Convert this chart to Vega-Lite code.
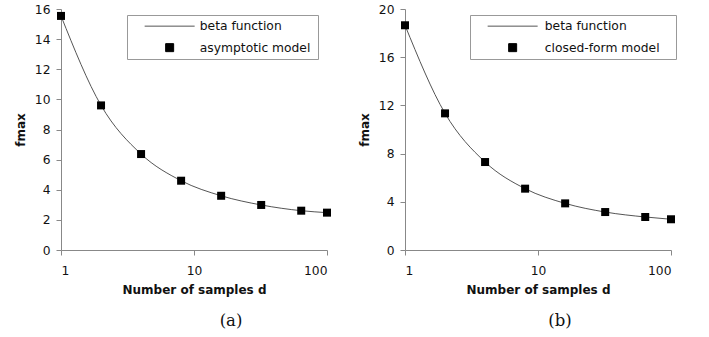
{
  "$schema": "https://vega.github.io/schema/vega-lite/v6.json",
  "background": "white",
  "padding": {"left": 14, "top": 3, "right": 5, "bottom": 5},
  "config": {
    "font": "DejaVu Sans",
    "view": {"stroke": null},
    "axis": {
      "grid": false,
      "domainColor": "#888",
      "tickColor": "#888",
      "tickSize": 5,
      "labelFont": "DejaVu Sans",
      "labelFontSize": 12.3,
      "labelColor": "#111",
      "titleFont": "DejaVu Sans",
      "titleFontSize": 12,
      "titleFontWeight": "bold",
      "titleColor": "#111"
    },
    "legend": {
      "orient": "none",
      "strokeColor": "#999",
      "fillColor": "white",
      "padding": 5,
      "labelFont": "DejaVu Sans",
      "labelFontSize": 12.3,
      "labelColor": "#111",
      "symbolSize": 64,
      "symbolOffset": 31.5,
      "labelOffset": 24,
      "rowPadding": 8.5,
      "titleOrient": "right",
      "titleFontSize": 12.3
    },
    "title": {
      "font": "DejaVu Serif",
      "fontSize": 16.5,
      "fontWeight": "normal",
      "color": "#111",
      "orient": "bottom",
      "frame": "group",
      "anchor": "middle",
      "offset": 18
    }
  },
  "spacing": 27,
  "resolve": {"scale": {"color": "independent", "y": "independent"}, "legend": {"color": "independent"}},
  "hconcat": [
    {
      "width": 266,
      "height": 241,
      "title": {"text": "(a)", "dx": 37},
      "data": {
        "values": [
          {"d": 1, "beta": 15.54, "model": 15.54},
          {"d": 2, "beta": 9.6, "model": 9.6},
          {"d": 4, "beta": 6.37, "model": 6.37},
          {"d": 8, "beta": 4.6, "model": 4.6},
          {"d": 16, "beta": 3.6, "model": 3.6},
          {"d": 32, "beta": 2.99, "model": 2.99},
          {"d": 64, "beta": 2.61, "model": 2.61},
          {"d": 100, "beta": 2.48, "model": 2.48}
        ]
      },
      "encoding": {
        "x": {
          "field": "d",
          "type": "quantitative",
          "scale": {"type": "log", "domain": [1, 100]},
          "axis": {"values": [1, 10, 100], "format": "d", "title": "Number of samples d", "labelPadding": 9, "titlePadding": 8}
        }
      },
      "layer": [
        {
          "mark": {"type": "line", "interpolate": "monotone", "strokeWidth": 1},
          "encoding": {
            "y": {
              "field": "beta",
              "type": "quantitative",
              "scale": {"domain": [0, 16]},
              "axis": {"values": [0, 2, 4, 6, 8, 10, 12, 14, 16], "labelOverlap": false, "title": "fmax", "labelPadding": 6, "titlePadding": 7}
            },
            "color": {
              "datum": "beta function",
              "type": "nominal",
              "scale": {"domain": ["beta function", "asymptotic model"], "range": ["#555555", "#000000"]},
              "legend": {
                "title": " ",
                "titlePadding": 3,
                "legendX": 66,
                "legendY": 6,
                "encode": {
                  "symbols": {
                    "update": {
                      "shape": {"signal": "datum.value === 'beta function' ? 'stroke' : 'square'"},
                      "size": {"signal": "datum.value === 'beta function' ? 2500 : 64"},
                      "fill": {"signal": "datum.value === 'beta function' ? 'transparent' : '#000000'"},
                      "stroke": {"signal": "datum.value === 'beta function' ? '#555555' : '#000000'"},
                      "strokeWidth": {"value": 1},
                      "opacity": {"value": 1}
                    }
                  }
                }
              }
            }
          }
        },
        {
          "mark": {"type": "square", "size": 64, "opacity": 1},
          "encoding": {
            "y": {
              "field": "model",
              "type": "quantitative",
              "scale": {"domain": [0, 16]},
              "axis": {"values": [0, 2, 4, 6, 8, 10, 12, 14, 16], "labelOverlap": false, "title": "fmax", "labelPadding": 6, "titlePadding": 7}
            },
            "color": {"datum": "asymptotic model", "type": "nominal"}
          }
        }
      ]
    },
    {
      "width": 266,
      "height": 241,
      "title": {"text": "(b)", "dx": 22},
      "data": {
        "values": [
          {"d": 1, "beta": 18.65, "model": 18.65},
          {"d": 2, "beta": 11.34, "model": 11.34},
          {"d": 4, "beta": 7.3, "model": 7.3},
          {"d": 8, "beta": 5.09, "model": 5.09},
          {"d": 16, "beta": 3.87, "model": 3.87},
          {"d": 32, "beta": 3.15, "model": 3.15},
          {"d": 64, "beta": 2.74, "model": 2.74},
          {"d": 100, "beta": 2.55, "model": 2.55}
        ]
      },
      "encoding": {
        "x": {
          "field": "d",
          "type": "quantitative",
          "scale": {"type": "log", "domain": [1, 100]},
          "axis": {"values": [1, 10, 100], "format": "d", "title": "Number of samples d", "labelPadding": 9, "titlePadding": 8}
        }
      },
      "layer": [
        {
          "mark": {"type": "line", "interpolate": "monotone", "strokeWidth": 1},
          "encoding": {
            "y": {
              "field": "beta",
              "type": "quantitative",
              "scale": {"domain": [0, 20]},
              "axis": {"values": [0, 4, 8, 12, 16, 20], "labelOverlap": false, "title": "fmax", "labelPadding": 6, "titlePadding": 7}
            },
            "color": {
              "datum": "beta function",
              "type": "nominal",
              "scale": {"domain": ["beta function", "closed-form model"], "range": ["#555555", "#000000"]},
              "legend": {
                "title": " ",
                "titlePadding": 11,
                "legendX": 65,
                "legendY": 6,
                "labelOffset": 26,
                "encode": {
                  "symbols": {
                    "update": {
                      "shape": {"signal": "datum.value === 'beta function' ? 'stroke' : 'square'"},
                      "size": {"signal": "datum.value === 'beta function' ? 2500 : 64"},
                      "fill": {"signal": "datum.value === 'beta function' ? 'transparent' : '#000000'"},
                      "stroke": {"signal": "datum.value === 'beta function' ? '#555555' : '#000000'"},
                      "strokeWidth": {"value": 1},
                      "opacity": {"value": 1}
                    }
                  }
                }
              }
            }
          }
        },
        {
          "mark": {"type": "square", "size": 64, "opacity": 1},
          "encoding": {
            "y": {
              "field": "model",
              "type": "quantitative",
              "scale": {"domain": [0, 20]},
              "axis": {"values": [0, 4, 8, 12, 16, 20], "labelOverlap": false, "title": "fmax", "labelPadding": 6, "titlePadding": 7}
            },
            "color": {"datum": "closed-form model", "type": "nominal"}
          }
        }
      ]
    }
  ]
}
